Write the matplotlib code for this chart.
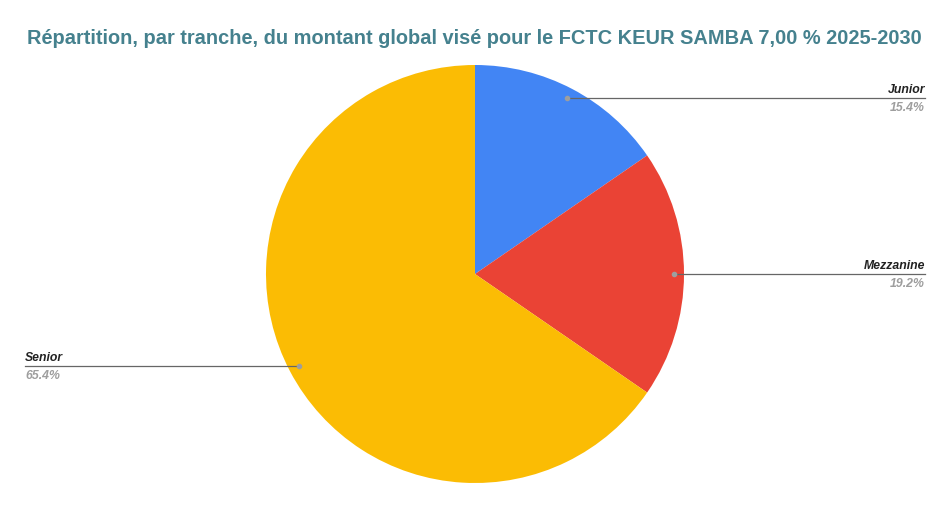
import numpy as np
import matplotlib.pyplot as plt

plt.rcParams['font.family'] = ['Liberation Sans', 'DejaVu Sans']

tranches = ['Junior', 'Mezzanine', 'Senior']
parts = [15.4, 19.2, 65.4]
colors = ['#4285F4', '#EA4335', '#FBBC04']
title = 'Répartition, par tranche, du montant global visé pour le FCTC KEUR SAMBA 7,00 % 2025-2030'

W, H = 950, 510
fig = plt.figure(figsize=(W / 100, H / 100), dpi=100)
ax = fig.add_axes([0, 0, 1, 1])

cx, cy, R = 475, H - 275, 209
ax.pie(parts, colors=colors, startangle=90, counterclock=False,
       center=(cx, cy), radius=R, frame=True,
       wedgeprops=dict(linewidth=0))
ax.set_xlim(0, W)
ax.set_ylim(0, H)
ax.set_aspect('equal')
ax.axis('off')

# leader lines and labels
cum = np.cumsum([0] + parts[:-1])
for name, p, c0 in zip(tranches, parts, cum):
    mid = np.deg2rad((c0 + p / 2) / 100 * 360)
    px = cx + 0.95 * R * np.sin(mid)
    py = cy + 0.95 * R * np.cos(mid)
    if px >= cx:
        xend, ha = 925, 'right'
    else:
        xend, ha = 25, 'left'
    ax.plot([px, xend], [py, py], color='#666666', lw=0.9, zorder=3)
    ax.plot(px, py, 'o', ms=3, color='#9E9E9E', zorder=4)
    ax.text(xend, py + 3, name, ha=ha, va='bottom', fontsize=8.8,
            fontweight='bold', fontstyle='italic', color='#222222')
    ax.text(xend, py - 3, f'{p:.1f}%', ha=ha, va='top', fontsize=8.8,
            fontweight='bold', fontstyle='italic', color='#9E9E9E')

fig.text(27 / W, 1 - 39 / H, title, ha='left', va='center', fontsize=14.4,
         fontweight='bold', color='#45818E')

fig.savefig('out.png', dpi=100, facecolor='white')
